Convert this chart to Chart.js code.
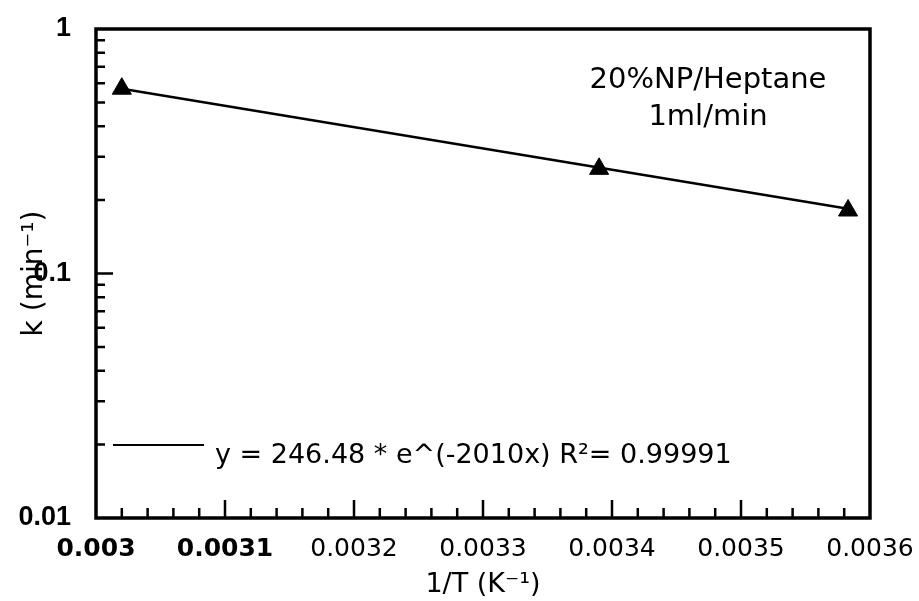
<!DOCTYPE html>
<html>
<head>
<meta charset="utf-8">
<script src="https://cdn.jsdelivr.net/npm/chart.js@4.4.1/dist/chart.umd.min.js"></script>
<style>
  html, body { margin: 0; padding: 0; background: #fff; }
  #wrap { width: 919px; height: 601px; }
</style>
</head>
<body>
<div id="wrap"><canvas id="kChart"></canvas></div>
<script>
// measured rate constants
const invT = [0.00302, 0.00339, 0.003583];
const kValues = [0.57, 0.268, 0.181];

// fitted exponential, end points of the drawn line
const fitX = [0.00302, 0.003583];
const fitY = [0.570, 0.184];

const xTicks = [0.003, 0.0031, 0.0032, 0.0033, 0.0034, 0.0035, 0.0036];
const xTickLabels = ['0.003', '0.0031', '0.0032', '0.0033', '0.0034', '0.0035', '0.0036'];
const yTicks = [0.01, 0.1, 1];
const yTickLabels = ['0.01', '0.1', '1'];

const fitLabel = 'y = 246.48 * e^(-2010x) R\u00B2= 0.99991';
const noteLines = ['20%NP/Heptane', '1ml/min'];

const FONT = '"DejaVu Sans", sans-serif';

// frame, inward tick marks, legend and note
const framePlugin = {
  id: 'frame',
  afterDraw(chart) {
    const ctx = chart.ctx;
    const a = chart.chartArea;
    const xs = chart.scales.x, ys = chart.scales.y;
    ctx.save();
    ctx.strokeStyle = '#000';
    ctx.lineWidth = 3.5;
    ctx.strokeRect(a.left, a.top, a.right - a.left, a.bottom - a.top);

    ctx.lineWidth = 2.5;
    ctx.beginPath();
    // x ticks: major every 0.0001, minor every 0.00002
    for (let i = 1; i < 30; i++) {
      const v = 0.003 + i * 0.00002;
      const px = xs.getPixelForValue(v);
      const len = i % 5 === 0 ? 18 : 10;
      ctx.moveTo(px, a.bottom);
      ctx.lineTo(px, a.bottom - len);
    }
    // y ticks: decades plus 2..9 within each
    [0.01, 0.1].forEach(d => {
      for (let m = 1; m <= 9; m++) {
        if (d === 0.01 && m === 1) continue;
        const py = ys.getPixelForValue(d * m);
        const len = m === 1 ? 17 : 9;
        ctx.moveTo(a.left, py);
        ctx.lineTo(a.left + len, py);
      }
    });
    ctx.stroke();

    // legend for the fitted line
    const ly = 445;
    ctx.lineWidth = 2;
    ctx.beginPath();
    ctx.moveTo(a.left + 17, ly);
    ctx.lineTo(a.left + 108, ly);
    ctx.stroke();
    ctx.fillStyle = '#000';
    ctx.font = '27px ' + FONT;
    ctx.textBaseline = 'alphabetic';
    ctx.textAlign = 'left';
    ctx.fillText(fitLabel, 215, 463);

    // sample note
    ctx.font = '29px ' + FONT;
    ctx.textAlign = 'center';
    ctx.fillText(noteLines[0], 708, 88);
    ctx.fillText(noteLines[1], 708, 125);
    ctx.restore();
  }
};

new Chart(document.getElementById('kChart'), {
  type: 'scatter',
  data: {
    datasets: [
      {
        label: 'k',
        data: invT.map((x, i) => ({ x: x, y: kValues[i] })),
        pointStyle: 'triangle',
        pointRadius: 11,
        pointHoverRadius: 11,
        backgroundColor: '#000',
        borderColor: '#000',
        borderWidth: 1,
        showLine: false
      },
      {
        label: 'fit',
        data: fitX.map((x, i) => ({ x: x, y: fitY[i] })),
        showLine: true,
        pointRadius: 0,
        borderColor: '#000',
        borderWidth: 2.5,
        fill: false
      }
    ]
  },
  options: {
    responsive: true,
    maintainAspectRatio: false,
    animation: false,
    layout: { padding: { top: 29, right: 49, bottom: 0, left: 0 } },
    plugins: {
      legend: { display: false },
      tooltip: { enabled: false }
    },
    scales: {
      x: {
        type: 'linear',
        min: 0.003,
        max: 0.0036,
        afterBuildTicks: s => { s.ticks = xTicks.map(v => ({ value: v })); },
        afterFit: s => { s.height = 83; s.paddingLeft = 0; s.paddingRight = 0; },
        grid: { display: false, drawTicks: false },
        border: { display: false },
        ticks: {
          padding: 16,
          maxRotation: 0,
          autoSkip: false,
          color: '#000',
          font: c => ({ family: FONT, size: 25, weight: c.index < 2 ? 'bold' : 'normal' }),
          callback: (v, i) => xTickLabels[i]
        },
        title: {
          display: true,
          text: '1/T (K\u207B\u00B9)',
          color: '#000',
          font: { family: FONT, size: 27 },
          padding: { top: 0, bottom: 0 }
        }
      },
      y: {
        type: 'logarithmic',
        min: 0.01,
        max: 1,
        afterBuildTicks: s => { s.ticks = yTicks.map(v => ({ value: v })); },
        afterFit: s => { s.width = 96; s.paddingTop = 0; s.paddingBottom = 0; },
        grid: { display: false, drawTicks: false },
        border: { display: false },
        ticks: {
          padding: 25,
          autoSkip: false,
          color: '#000',
          font: { family: '"Liberation Sans", Arial, sans-serif', size: 27, weight: 'bold' },
          callback: (v, i) => yTickLabels[i]
        },
        title: {
          display: true,
          text: 'k (min\u207B\u00B9)',
          color: '#000',
          font: { family: FONT, size: 28 },
          padding: { top: 18, bottom: 0 }
        }
      }
    }
  },
  plugins: [framePlugin]
});
</script>
</body>
</html>
